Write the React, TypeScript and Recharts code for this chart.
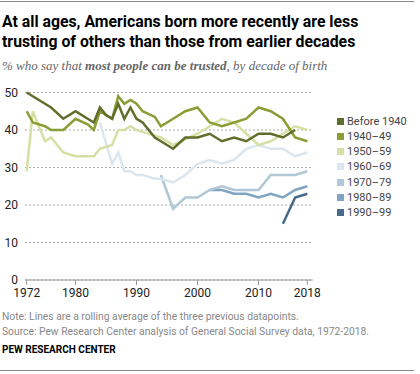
import { LineChart, Line, XAxis, YAxis, CartesianGrid } from "recharts";

// GSS survey years
const years = [
  1972, 1973, 1974, 1975, 1976, 1977, 1978, 1980, 1982, 1983, 1984, 1985, 1986, 1987, 1988, 1989,
  1990, 1991, 1993, 1994, 1996, 1998, 2000, 2002, 2004, 2006, 2008, 2010, 2012, 2014, 2016, 2018,
];

const before1940 = [
  50, 49, 48, 47, 46, 44.5, 43, 45, 43, 42, 46, 44, 43, 47, 43, 46,
  43, 42, 38, 37, 35, 38, 38, 39, 37, 38, 37, 39, 39, 38, 40, null,
];
const born1940s = [
  45, 42, 41.5, 41, 40, 40, 40, 43, 41.5, 40, 45, 44, 43, 49, 47, 48,
  47, 45, 43.5, 41, 43, 45, 46, 42, 41, 42, 43, 46, 45, 43, 38, 37,
];
const born1950s = [
  29, 45, 41, 37, 38, 36, 34, 33, 33, 33, 35, 35.5, 36, 40, 40, 41,
  40, 39.5, 38.5, 38, 36, 37.5, 39, 41, 43, 42, 39, 36, 37, 39, 41, 40,
];
const born1960s = [
  null, null, null, null, null, null, null, null, null, null, 42, 36.5, 31, 34, 29, 29,
  28, 28, 27, 27, 26, 28, 31, 32, 31, 32, 35, 36, 35, 35, 33, 34,
];
const born1970s = [
  null, null, null, null, null, null, null, null, null, null, null, null, null, null, null, null,
  null, null, null, 28, 19, 22, 22, 24, 25, 24, 24, 24, 28, 28, 28, 29,
];
const born1980s = [
  null, null, null, null, null, null, null, null, null, null, null, null, null, null, null, null,
  null, null, null, null, null, null, null, 24, 24, 23, 23, 22, 23, 22, 24, 25,
];
const born1990s = [
  null, null, null, null, null, null, null, null, null, null, null, null, null, null, null, null,
  null, null, null, null, null, null, null, null, null, null, null, null, null, 15, 22, 23,
];

const seriesNames = ["Before 1940", "1940–49", "1950–59", "1960–69", "1970–79", "1980–89", "1990–99"];
const seriesValues = [before1940, born1940s, born1950s, born1960s, born1970s, born1980s, born1990s];
const seriesColors = ["#5f6e2a", "#8a9e36", "#d6e0a5", "#dbe6ee", "#b0c7d8", "#7ea4c2", "#466a8c"];

const xTicks = [1972, 1980, 1990, 2000, 2010, 2018];
const yTicks = [0, 10, 20, 30, 40, 50];

const data = years.map((year, i) => {
  const row: Record<string, number | null> = { year };
  seriesNames.forEach((name, k) => {
    row[name] = seriesValues[k][i];
  });
  return row;
});

const sans = "Roboto, 'Liberation Sans', Arial, sans-serif";

export default function App() {
  return (
    <div
      style={{
        position: "absolute",
        left: 0,
        top: 0,
        width: 420,
        height: 374,
        overflow: "hidden",
        background: "#fff",
        fontFamily: sans,
      }}
    >
      <div style={{ position: "absolute", left: 0, top: 1, width: 414, borderTop: "1px solid #888" }} />
      <div
        style={{
          position: "absolute",
          left: 2,
          top: 12,
          width: 418,
          fontSize: 15.8,
          lineHeight: "20px",
          fontWeight: 700,
          color: "#000",
          whiteSpace: "nowrap",
        }}
      >
        At all ages, Americans born more recently are less
        <br />
        trusting of others than those from earlier decades
      </div>
      <div
        style={{
          position: "absolute",
          left: 2,
          top: 58,
          fontFamily: "'Liberation Serif', serif",
          fontStyle: "italic",
          fontSize: 13,
          lineHeight: "16px",
          color: "#666",
          whiteSpace: "nowrap",
        }}
      >
        % who say that <b>most people can be trusted</b>, by decade of birth
      </div>

      <div style={{ position: "absolute", left: 0, top: 0 }}>
        <LineChart width={420} height={374} data={data} margin={{ top: 92.5, right: 107, bottom: 64, left: 0 }}>
          <CartesianGrid vertical={false} strokeDasharray="2 2" stroke="#aaa" />
          <XAxis
            type="number"
            dataKey="year"
            domain={[1971.72, 2018.93]}
            ticks={xTicks}
            height={30}
            tickSize={5}
            tickMargin={3}
            stroke="#999"
            tick={{ fontSize: 12, fill: "#222", fontFamily: sans }}
            interval={0}
          />
          <YAxis
            type="number"
            domain={[0, 50]}
            ticks={yTicks}
            width={25}
            axisLine={false}
            tickLine={false}
            tickSize={6}
            tickMargin={1}
            tick={{ fontSize: 12, fill: "#222", fontFamily: sans }}
            interval={0}
          />
          {seriesNames
            .map((name, i) => (
              <Line
                key={name}
                type="linear"
                dataKey={name}
                stroke={seriesColors[i]}
                strokeWidth={2.5}
                dot={false}
                activeDot={false}
                isAnimationActive={false}
              />
            ))
            .reverse()}
        </LineChart>
      </div>

      <div style={{ position: "absolute", left: 337, top: 113.5, fontSize: 11, color: "#444" }}>
        {seriesNames.map((name, i) => (
          <div key={name} style={{ display: "flex", alignItems: "center", height: 15.25 }}>
            <span style={{ width: 7, height: 7, background: seriesColors[i], marginRight: 3, display: "inline-block" }} />
            <span>{name}</span>
          </div>
        ))}
      </div>

      <div
        style={{
          position: "absolute",
          left: 2,
          top: 309,
          fontSize: 10.3,
          lineHeight: "15px",
          color: "#888",
          whiteSpace: "nowrap",
        }}
      >
        Note: Lines are a rolling average of the three previous datapoints.
        <br />
        Source: Pew Research Center analysis of General Social Survey data, 1972-2018.
      </div>
      <div
        style={{
          position: "absolute",
          left: 2,
          top: 343,
          fontSize: 10,
          lineHeight: "14px",
          fontWeight: 700,
          color: "#000",
        }}
      >
        PEW RESEARCH CENTER
      </div>
      <div style={{ position: "absolute", left: 0, top: 370, width: 414, borderTop: "1px solid #888" }} />
    </div>
  );
}
